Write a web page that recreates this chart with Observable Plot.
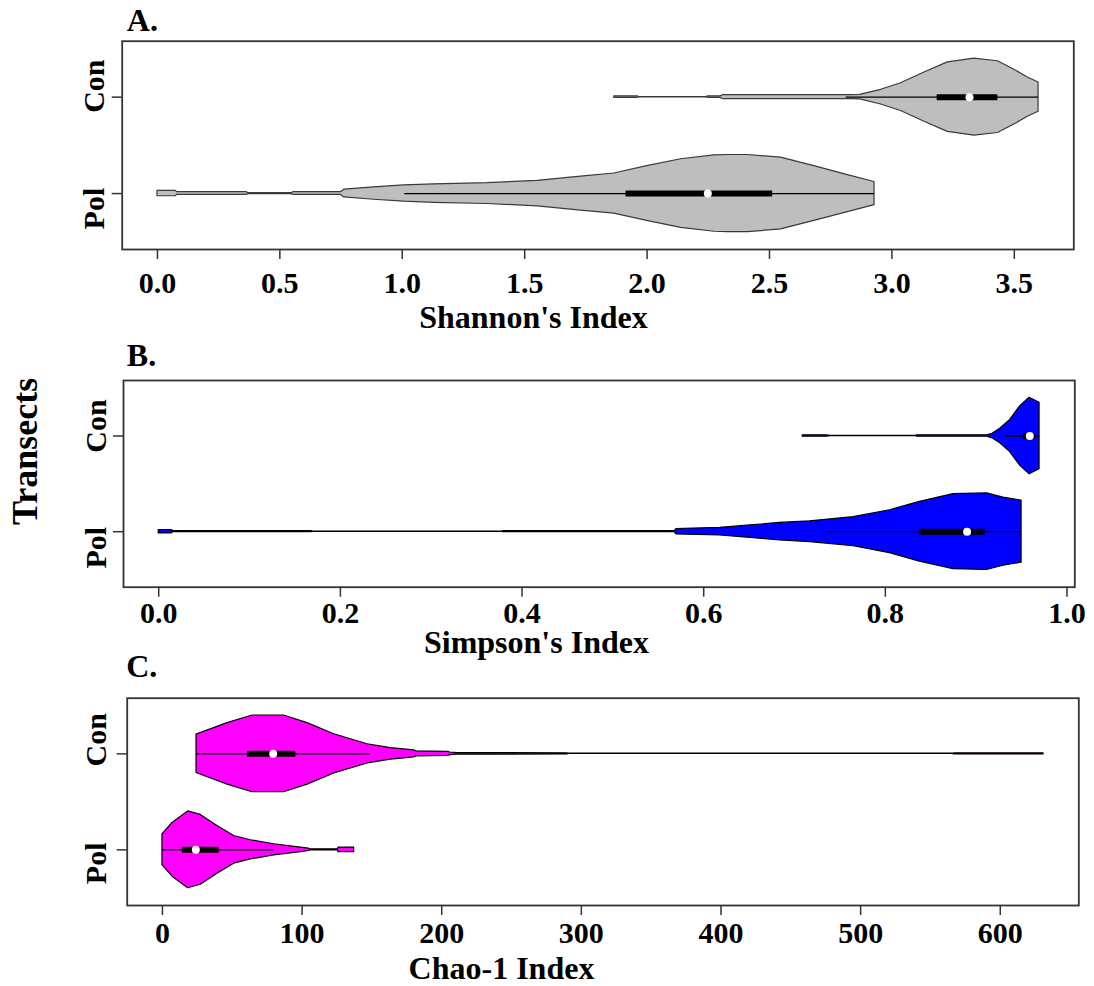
<!DOCTYPE html>
<html><head><meta charset="utf-8">
<script src="https://cdn.jsdelivr.net/npm/d3@7"></script>
<script src="https://cdn.jsdelivr.net/npm/@observablehq/plot@0.6"></script>
<style>
body{margin:0;background:#fff;}
#wrap{position:relative;width:1094px;height:986px;overflow:hidden;background:#fff;}
#wrap svg{position:absolute;left:0;overflow:visible;}
</style></head><body><div id="wrap"></div>
<script>
// ---------- DATA ----------
const groups = ["Pol", "Con"];
const panelLetters = ["A.", "B.", "C."];
const axisTitles = ["Shannon's Index", "Simpson's Index", "Chao-1 Index"];
const yTitle = "Transects";

// Shannon's index: violin outlines (value, relative density)
const shannonConX = [1.866, 1.96, 1.97, 2.24, 2.25, 2.30, 2.31, 2.83, 2.87, 2.956, 3.037, 3.133, 3.228, 3.337, 3.433, 3.50, 3.555, 3.599];
const shannonConW = [0.02, 0.02, 0.004, 0.004, 0.02, 0.02, 0.05, 0.05, 0.06, 0.19, 0.36, 0.64, 0.90, 1.0, 0.93, 0.71, 0.51, 0.38];
const shannonPolX = [0, 0.075, 0.08, 0.365, 0.37, 0.55, 0.555, 0.75, 0.763, 0.885, 1.008, 1.13, 1.349, 1.553, 1.73, 1.866, 2.0, 2.139, 2.275, 2.33, 2.411, 2.547, 2.683, 2.82, 2.929];
const shannonPolW = [0.07, 0.07, 0.035, 0.035, 0.015, 0.015, 0.035, 0.035, 0.1, 0.16, 0.21, 0.24, 0.27, 0.33, 0.44, 0.52, 0.71, 0.89, 0.99, 1.0, 1.0, 0.93, 0.71, 0.48, 0.30];
// box stats: [lower whisker, Q1, median, Q3, upper whisker]
const shannonPolStats = [1.01, 1.914, 2.248, 2.513, 2.929];
const shannonConStats = [2.813, 3.185, 3.317, 3.433, 3.599];
const shannonTicks = [0, 0.5, 1, 1.5, 2, 2.5, 3, 3.5];

// Simpson's index
const simpsonConX = [0.709, 0.735, 0.74, 0.834, 0.835, 0.912, 0.918, 0.9265, 0.9375, 0.9486, 0.9588, 0.9698];
const simpsonConW = [0.02, 0.02, 0.004, 0.004, 0.02, 0.02, 0.06, 0.19, 0.42, 0.78, 1.0, 0.87];
const simpsonPolX = [0, 0.014, 0.016, 0.168, 0.17, 0.378, 0.38, 0.568, 0.570, 0.618, 0.655, 0.684, 0.717, 0.765, 0.805, 0.838, 0.875, 0.912, 0.930, 0.950];
const simpsonPolW = [0.045, 0.045, 0.015, 0.015, 0.004, 0.004, 0.015, 0.015, 0.07, 0.1, 0.17, 0.23, 0.27, 0.38, 0.56, 0.78, 0.98, 1.0, 0.89, 0.81];
const simpsonPolStats = [0.734, 0.838, 0.890, 0.910, 0.950];
const simpsonConStats = [0.9325, 0.952, 0.959, 0.965, 0.9698];
const simpsonTicks = [0, 0.2, 0.4, 0.6, 0.8, 1.0];

// Chao-1 index
const chaoConX = [24.4, 46.6, 64.5, 87.1, 103.9, 123, 146.9, 163.6, 180.3, 182, 205, 206, 211.4, 290, 291, 566, 567, 631];
const chaoConW = [0.5, 0.8, 1.0, 1.0, 0.8, 0.51, 0.25, 0.15, 0.09, 0.065, 0.05, 0.035, 0.02, 0.015, 0.004, 0.004, 0.015, 0.015];
const chaoPolX = [0, 7.2, 18.4, 27.4, 39.4, 51.3, 63.3, 80, 99.1, 105, 106, 125.8, 126, 137.3];
const chaoPolW = [0.4, 0.7, 1.0, 0.91, 0.62, 0.36, 0.25, 0.145, 0.06, 0.03, 0.015, 0.015, 0.06, 0.06];
const chaoPolStats = [0, 14.3, 23.9, 40.6, 80];
const chaoConStats = [24.4, 60.9, 79.3, 95.5, 148.8];
const chaoTicks = [0, 100, 200, 300, 400, 500, 600];

// ---------- DRAWING ----------
const FONT = "'Liberation Serif', 'Times New Roman', serif";
const HALF = 0.4;
const pos = {Pol: 1, Con: 2};
const ylim = [0.5, 2.5];
const ext = (lo, hi) => { const e = (hi - lo) * 0.04; return [lo - e, hi + e]; };

function rows(xs, ws, g) { return xs.map((x, i) => ({x, w: ws[i], g})); }
function statRow(s, g) { return {g, lo: s[0], q1: s[1], med: s[2], q3: s[3], hi: s[4]}; }

function panel(o) {
  const vio = [...rows(o.polX, o.polW, "Pol"), ...rows(o.conX, o.conW, "Con")];
  const stats = [statRow(o.polStats, "Pol"), statRow(o.conStats, "Con")];
  const xs = vio.map(d => d.x);
  const svg = Plot.plot({
    width: 1094, height: o.height,
    marginLeft: o.ml, marginRight: o.mr, marginTop: o.mt, marginBottom: o.mb,
    x: {domain: ext(d3.min(xs), d3.max(xs))},
    y: {domain: ext(ylim[0], ylim[1])},
    style: {fontFamily: FONT, fontWeight: "bold", color: "#000", background: "transparent", overflow: "visible"},
    marks: [
      Plot.areaY(vio, {x: "x", y1: d => pos[d.g] - d.w * HALF, y2: d => pos[d.g] + d.w * HALF, z: "g",
        fill: o.fill, stroke: o.outline, strokeWidth: 1.2, curve: "linear"}),
      Plot.ruleY(stats, {y: d => pos[d.g], x1: "lo", x2: "hi", stroke: "#000", strokeWidth: 1.3}),
      Plot.ruleY(stats, {y: d => pos[d.g], x1: "q1", x2: "q3", stroke: "#000", strokeWidth: 6}),
      Plot.dot(stats, {y: d => pos[d.g], x: "med", r: 4, fill: "#fff", stroke: null}),
      Plot.frame({stroke: "#333", strokeWidth: 1.8}),
      Plot.axisX(o.ticks, {tickFormat: o.fmt, tickSize: 10, tickPadding: o.tp, fontSize: 30, fontWeight: "bold",
        stroke: "#333", fill: "#000", strokeWidth: 1.5, label: null}),
      Plot.axisY([1, 2], {tickFormat: () => "", tickSize: 10, stroke: "#333", strokeWidth: 1.5, label: null}),
      Plot.text(["Con"], {y: () => pos.Con, text: d => d, frameAnchor: "left", rotate: -90, textAnchor: "middle",
        lineAnchor: "bottom", dx: -o.yl, dy: o.conDy, fontSize: 30, fontWeight: "bold"}),
      Plot.text(["Pol"], {y: () => pos.Pol, text: d => d, frameAnchor: "left", rotate: -90, textAnchor: "middle",
        lineAnchor: "bottom", dx: -o.yl, dy: o.polDy, fontSize: 30, fontWeight: "bold"}),
      Plot.text([o.letter], {text: d => d, frameAnchor: "top-left", textAnchor: "start", lineAnchor: "bottom",
        dx: o.letDx, dy: o.letDy, fontSize: 32, fontWeight: "bold"}),
      Plot.text([o.title], {text: d => d, frameAnchor: "bottom", textAnchor: "middle", lineAnchor: "bottom",
        dx: o.titDx, dy: o.titDy, fontSize: 32, fontWeight: "bold"}),
      ...(o.extra || [])
    ]
  });
  svg.style.top = o.top + "px";
  return svg;
}

const wrap = document.getElementById("wrap");
wrap.appendChild(panel({
  top: 0, height: 335, ml: 121.7, mr: 20.7, mt: 40.7, mb: 86,
  conX: shannonConX, conW: shannonConW, polX: shannonPolX, polW: shannonPolW,
  conStats: shannonConStats, polStats: shannonPolStats,
  fill: "#bebebe", outline: "#3a3a3a", ticks: shannonTicks, fmt: d3.format(".1f"), tp: 12,
  yl: 18, conDy: -11, polDy: 15, letter: panelLetters[0], letDx: 4.6, letDy: -10.5,
  title: axisTitles[0], titDx: -64.5, titDy: 78
}));
wrap.appendChild(panel({
  top: 335, height: 325, ml: 123, mr: 19.7, mt: 45, mb: 73.3,
  conX: simpsonConX, conW: simpsonConW, polX: simpsonPolX, polW: simpsonPolW,
  conStats: simpsonConStats, polStats: simpsonPolStats,
  fill: "#0000ff", outline: "#000", ticks: simpsonTicks, fmt: d3.format(".1f"), tp: 4,
  yl: 18, conDy: -10, polDy: 16, letter: panelLetters[1], letDx: 3.3, letDy: -15,
  title: axisTitles[1], titDx: -62.7, titDy: 66,
  extra: [Plot.text([yTitle], {text: d => d, frameAnchor: "left", rotate: -90, textAnchor: "middle",
    lineAnchor: "bottom", dx: -86.2, dy: -32.4, fontSize: 36, fontWeight: "bold"})]
}));
wrap.appendChild(panel({
  top: 660, height: 326, ml: 126.7, mr: 15.7, mt: 37.7, mb: 81,
  conX: chaoConX, conW: chaoConW, polX: chaoPolX, polW: chaoPolW,
  conStats: chaoConStats, polStats: chaoPolStats,
  fill: "#ff00ff", outline: "#000", ticks: chaoTicks, fmt: d3.format("d"), tp: 6,
  yl: 21.5, conDy: -14, polDy: 13.5, letter: panelLetters[2], letDx: -1, letDy: -21.7,
  title: axisTitles[2], titDx: -101.5, titDy: 73
}));
</script>
</body></html>
